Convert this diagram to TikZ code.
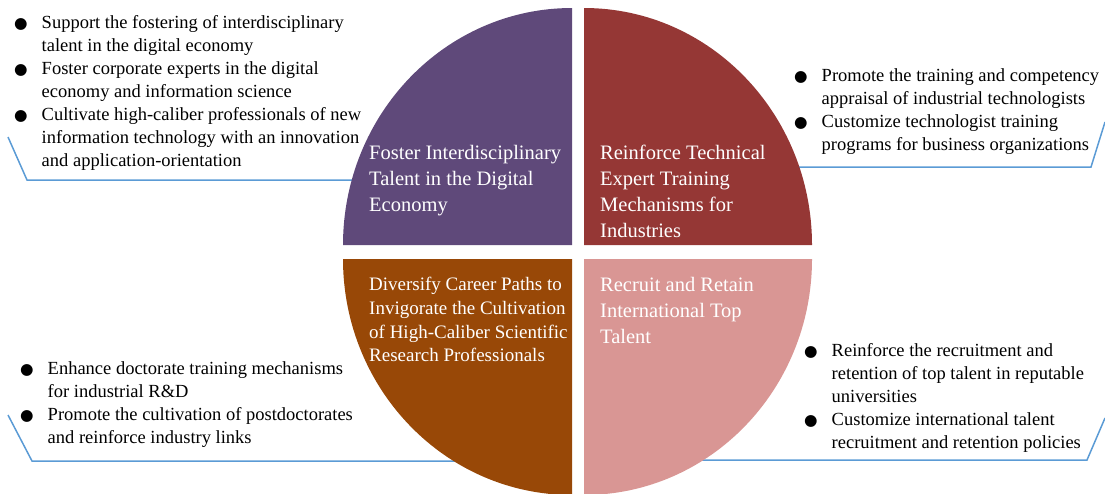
\documentclass[tikz,border=0pt]{standalone}
\usepackage{fontspec}
\setmainfont{Liberation Serif}
\newfontfamily\dejavu{DejaVu Sans}
\definecolor{fosterpurple}{HTML}{5F497A}
\definecolor{reinforcered}{HTML}{953735}
\definecolor{diversifybrown}{HTML}{984807}
\definecolor{recruitpink}{HTML}{D99694}
\definecolor{calloutblue}{HTML}{5B9BD5}
\newcommand{\bul}{{\dejavu\fontsize{15.5}{15.5}\selectfont ●}}

\begin{document}
\begin{tikzpicture}[x=1pt, y=-1pt,
        pietext/.style={anchor=north west, align=left, inner sep=0pt, text=white,
            font=\fontsize{20.5}{26}\selectfont},
        points/.style={anchor=north west, inner sep=0pt,
            font=\fontsize{18.5}{23}\selectfont},
        callout/.style={draw=calloutblue, line width=1.5pt}]
        \useasboundingbox (0,0) rectangle (1105,493);
        \coordinate (FosterEdge) at (358,180);
        \coordinate (FosterBend) at (27,180);
        \coordinate (FosterEnd) at (8,137);
        \coordinate (ReinforceEdge) at (794,167);
        \coordinate (ReinforceBend) at (1091,167);
        \coordinate (ReinforceEnd) at (1105,122);
        \coordinate (DiversifyEdge) at (460,461);
        \coordinate (DiversifyBend) at (32,461);
        \coordinate (DiversifyEnd) at (8,415);
        \coordinate (RecruitEdge) at (697,460);
        \coordinate (RecruitBend) at (1087,460);
        \coordinate (RecruitEnd) at (1105,418);
        \draw[callout] (FosterEdge) -- (FosterBend) -- (FosterEnd);
        \draw[callout] (ReinforceEdge) -- (ReinforceBend) -- (ReinforceEnd);
        \draw[callout] (DiversifyEdge) -- (DiversifyBend) -- (DiversifyEnd);
        \draw[callout] (RecruitEdge) -- (RecruitBend) -- (RecruitEnd);
        \fill[fosterpurple] (572,245) -- (343,245)
            arc[start angle=180, end angle=270, x radius=229, y radius=237] -- cycle;
        \fill[reinforcered] (584,245) -- (584,8)
            arc[start angle=270, end angle=360, x radius=228, y radius=237] -- cycle;
        \fill[recruitpink] (584,259) -- (812,259)
            arc[start angle=0, end angle=90, x radius=228, y radius=236] -- cycle;
        \fill[diversifybrown] (572,259) -- (572,495)
            arc[start angle=90, end angle=180, x radius=229, y radius=236] -- cycle;
        \node[pietext] (FosterTalent) at (369,145) {
            Foster Interdisciplinary\\ Talent in the Digital\\ Economy
        };
        \node[pietext] (ReinforceExperts) at (600,145) {
            Reinforce Technical\\ Expert Training\\ Mechanisms for\\ Industries
        };
        \node[pietext, font=\fontsize{19}{23.8}\selectfont] (DiversifyPaths) at (369,277) {
            Diversify Career Paths to\\ Invigorate the Cultivation\\
            of High-Caliber Scientific\\ Research Professionals
        };
        \node[pietext] (RecruitTalent) at (600,277) {
            Recruit and Retain\\ International Top\\ Talent
        };
        \node[points] (FosterList) at (14,12) {
            \begin{tabular}{@{}l@{\hspace{14pt}}l@{}}
            \bul & Support the fostering of interdisciplinary\\
                 & talent in the digital economy\\
            \bul & Foster corporate experts in the digital\\
                 & economy and information science\\
            \bul & Cultivate high-caliber professionals of new\\
                 & information technology with an innovation\\
                 & and application-orientation
            \end{tabular}
        };
        \node[points] (ReinforceList) at (794,65) {
            \begin{tabular}{@{}l@{\hspace{14pt}}l@{}}
            \bul & Promote the training and competency\\
                 & appraisal of industrial technologists\\
            \bul & Customize technologist training\\
                 & programs for business organizations
            \end{tabular}
        };
        \node[points] (DiversifyList) at (20,358) {
            \begin{tabular}{@{}l@{\hspace{14pt}}l@{}}
            \bul & Enhance doctorate training mechanisms\\
                 & for industrial R\&D\\
            \bul & Promote the cultivation of postdoctorates\\
                 & and reinforce industry links
            \end{tabular}
        };
        \node[points] (RecruitList) at (804,340) {
            \begin{tabular}{@{}l@{\hspace{14pt}}l@{}}
            \bul & Reinforce the recruitment and\\
                 & retention of top talent in reputable\\
                 & universities\\
            \bul & Customize international talent\\
                 & recruitment and retention policies
            \end{tabular}
        };
\end{tikzpicture}
\end{document}
